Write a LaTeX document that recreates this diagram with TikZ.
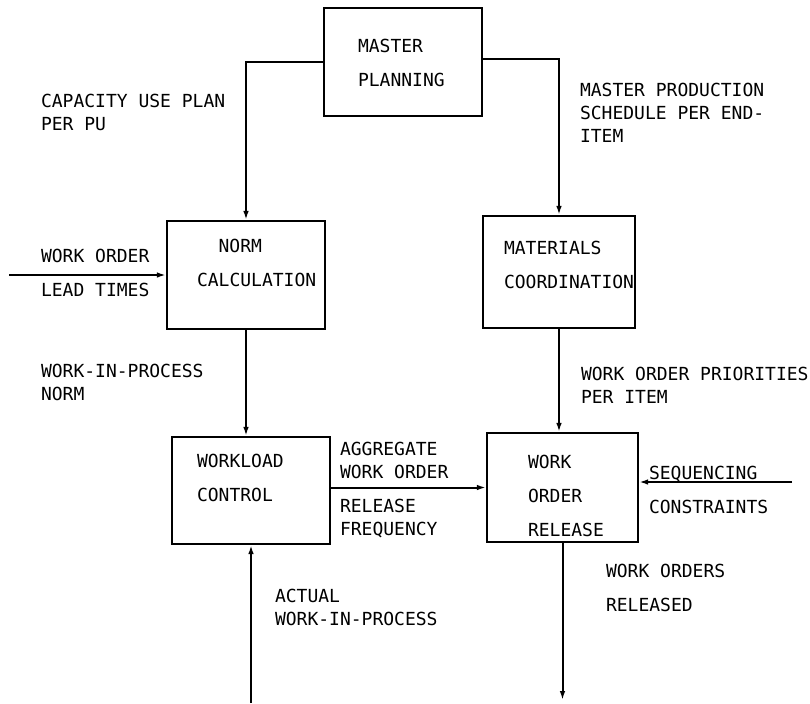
\documentclass[tikz,border=0pt]{standalone}
\usepackage{fontspec}
\setmonofont{DejaVu Sans Mono}
\usetikzlibrary{arrows.meta}
\begin{document}
\begin{tikzpicture}[x=0.5pt, y=-0.5pt, >={Latex[length=4.5pt,width=2.8pt]}, line width=1pt,
  bx/.style={draw, line width=1.1pt, minimum width=79pt, minimum height=54pt, inner sep=0pt},
  lb/.style={anchor=north west, inner sep=0pt, align=left, font=\ttfamily\fontsize{9}{11.5}\selectfont},
  lw/.style={lb, font=\ttfamily\fontsize{9}{17}\selectfont}]
  \useasboundingbox (0,0) rectangle (810,703);
  % blocks
  \node[bx] (mp) at (403,62) {};
  \node[bx] (nc) at (246,275) {};
  \node[bx, minimum width=76pt, minimum height=56pt] (mc) at (559,272) {};
  \node[bx, minimum height=53.5pt] (wc) at (251,490.5) {};
  \node[bx, minimum width=75.5pt, minimum height=54.5pt] (wr) at (562.5,487.5) {};
  % block texts
  \node[lw] (mpt) at (357,38.5) {MASTER\\PLANNING};
  \node[lw] (nct) at (196,238.5) {\hspace*{1.2em}NORM\\CALCULATION};
  \node[lw] (mct) at (503,240.5) {MATERIALS\\COORDINATION};
  \node[lw] (wct) at (196,453.5) {WORKLOAD\\CONTROL};
  \node[lw] (wrt) at (527,454.5) {WORK\\ORDER\\RELEASE};
  % flow labels
  \node[lb] (cap) at (40,93.5) {CAPACITY USE PLAN\\PER PU};
  \node[lb] (mps) at (579,82.5) {MASTER PRODUCTION\\SCHEDULE PER END-\\ITEM};
  \node[lw] (wol) at (40,248.5) {WORK ORDER\\LEAD TIMES};
  \node[lb] (wipn) at (40,363.5) {WORK-IN-PROCESS\\NORM};
  \node[lb] (wop) at (580,366.5) {WORK ORDER PRIORITIES\\PER ITEM};
  \node[lb] (agg) at (339,441.5) {AGGREGATE\\WORK ORDER};
  \node[lb] (rf) at (339,498.5) {RELEASE\\FREQUENCY};
  \node[lw] (seq) at (648,465.5) {SEQUENCING\\CONSTRAINTS};
  \node[lb] (act) at (274,588.5) {ACTUAL\\WORK-IN-PROCESS};
  \node[lw] (wor) at (605,563.5) {WORK ORDERS\\RELEASED};
  % free ends
  \coordinate (wolin) at (9,275);
  \coordinate (seqin) at (792,482);
  \coordinate (wipin) at (251,703);
  \coordinate (wrout) at (562.5,700);
  % connectors
  \draw[->] (mp.west) -| (nc.north);
  \draw[->] ([yshift=1.5pt]mp.east) -| (mc.north);
  \draw[->] (wolin) -- (nc.west);
  \draw[->] (nc.south) -- (nc.south |- wc.north);
  \draw[->] (mc.south) -- (mc.south |- wr.north);
  \draw[->] (wc.east |- wr.west) -- (wr.west);
  \draw[->] (seqin) -- (wr.east |- seqin);
  \draw[->] (wipin) -- (wc.south);
  \draw[->] (wr.south) -- (wrout);
\end{tikzpicture}
\end{document}
